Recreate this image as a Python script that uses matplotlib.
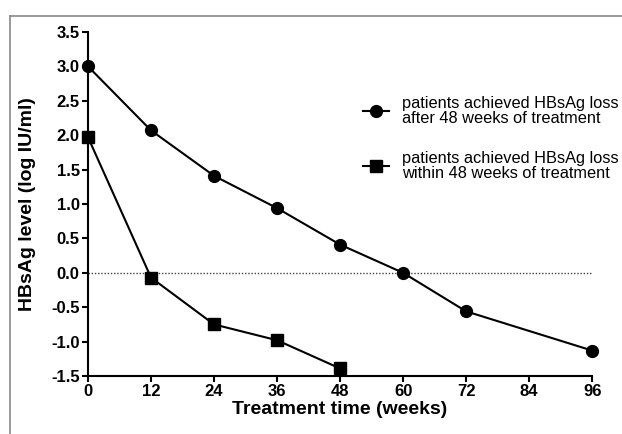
import matplotlib.pyplot as plt
from matplotlib.lines import Line2D

plt.rcParams['font.family'] = ['Liberation Sans', 'DejaVu Sans']

weeks_after = [0, 12, 24, 36, 48, 60, 72, 96]
level_after = [3.0, 2.07, 1.41, 0.94, 0.41, 0.0, -0.56, -1.13]
weeks_within = [0, 12, 24, 36, 48]
level_within = [1.97, -0.07, -0.75, -0.98, -1.39]

xticks = [0, 12, 24, 36, 48, 60, 72, 84, 96]
yticks = [3.5, 3.0, 2.5, 2.0, 1.5, 1.0, 0.5, 0.0, -0.5, -1.0, -1.5]

label_after = 'patients achieved HBsAg loss\nafter 48 weeks of treatment'
label_within = 'patients achieved HBsAg loss\nwithin 48 weeks of treatment'

fig = plt.figure(figsize=(6.22, 4.34), dpi=100)
ax = fig.add_axes([0.1415, 0.1336, 0.8105, 0.7926])

# zero reference line
ax.axhline(0, xmin=0, xmax=1, color='#444444', lw=1.0, ls=(0, (1, 1.3)), zorder=1)

l1, = ax.plot(weeks_after, level_after, color='black', lw=1.5, marker='o',
              markersize=8.5, clip_on=False, zorder=3)
l2, = ax.plot(weeks_within, level_within, color='black', lw=1.5, marker='s',
              markersize=8, clip_on=False, zorder=3)

ax.set_xlim(0, 96)
ax.set_ylim(-1.5, 3.5)
ax.set_xticks(xticks)
ax.set_yticks(yticks)
ax.set_yticklabels(['%.1f' % v for v in yticks])
for s in ['top', 'right']:
    ax.spines[s].set_visible(False)
for s in ['left', 'bottom']:
    ax.spines[s].set_linewidth(1.5)
ax.tick_params(width=1.5, length=4, direction='out', labelsize=12, pad=2)
for t in ax.get_xticklabels() + ax.get_yticklabels():
    t.set_fontweight('bold')

ax.set_xlabel('Treatment time (weeks)', fontsize=14, fontweight='bold', labelpad=1)
ax.set_ylabel('HBsAg level (log IU/ml)', fontsize=14, fontweight='bold', labelpad=11)

h1 = Line2D([], [], color='black', lw=1.5, marker='o', markersize=8.5)
h2 = Line2D([], [], color='black', lw=1.5, marker='s', markersize=8)
leg = fig.legend([h1, h2], [label_after, label_within], loc='upper left',
                 bbox_to_anchor=(0.573, 0.795), frameon=False, fontsize=11.8,
                 handlelength=1.6, handletextpad=0.8, labelspacing=1.5,
                 borderaxespad=0)
for t in leg.get_texts():
    t.set_linespacing(1.05)

# grey frame on the top and left edges
fig.add_artist(Line2D([0.016, 0.016], [0, 0.963], color='#888888', lw=1.2,
                      transform=fig.transFigure))
fig.add_artist(Line2D([0.016, 1], [0.963, 0.963], color='#888888', lw=1.2,
                      transform=fig.transFigure))

fig.savefig('out.png', dpi=100)
